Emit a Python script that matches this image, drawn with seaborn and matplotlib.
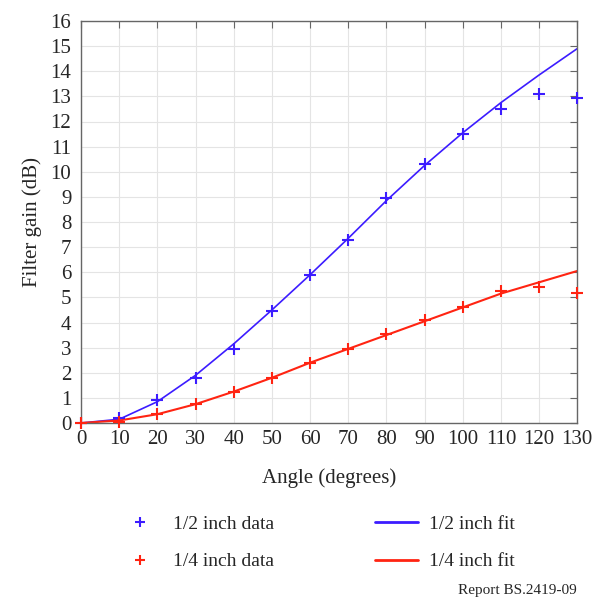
import seaborn as sns
import matplotlib.pyplot as plt
import numpy as np
from matplotlib.lines import Line2D

# angles (degrees)
angles = np.array([0, 10, 20, 30, 40, 50, 60, 70, 80, 90, 100, 110, 120, 130])

# measured filter gain (dB)
half_data = np.array([0.0, 0.2, 0.9, 1.8, 2.95, 4.45, 5.9, 7.3, 8.95, 10.3, 11.5, 12.5, 13.1, 12.95])
quarter_data = np.array([0.0, 0.05, 0.35, 0.75, 1.25, 1.8, 2.4, 2.95, 3.55, 4.08, 4.6, 5.25, 5.4, 5.17])

# fitted curves (dB)
half_fit = np.array([0.0, 0.15, 0.85, 1.9, 3.15, 4.5, 5.9, 7.35, 8.85, 10.25, 11.55, 12.75, 13.85, 14.9])
quarter_fit = np.array([0.0, 0.1, 0.35, 0.75, 1.25, 1.8, 2.4, 2.95, 3.5, 4.05, 4.6, 5.15, 5.6, 6.05])

BLUE = '#3c1cff'
RED = '#ff2412'


def main():
    sns.set_style('white')
    plt.rcParams['font.family'] = ['Liberation Serif', 'DejaVu Serif']

    fig = plt.figure(figsize=(5.92, 6.0), dpi=100, facecolor='white')
    ax = fig.add_axes([0.137, 0.295, 0.838, 0.67])

    sns.lineplot(x=angles, y=half_fit, color=BLUE, linewidth=1.2, ax=ax)
    sns.lineplot(x=angles, y=quarter_fit, color=RED, linewidth=1.5, ax=ax)
    sns.scatterplot(x=angles, y=half_data, marker='+', s=70, color=BLUE,
                    linewidth=1.5, ax=ax, clip_on=False, zorder=5)
    sns.scatterplot(x=angles, y=quarter_data, marker='+', s=70, color=RED,
                    linewidth=1.5, ax=ax, clip_on=False, zorder=5)

    ax.set_xlim(0, 130)
    ax.set_ylim(0, 16)
    ax.set_xticks(np.arange(0, 131, 10))
    ax.set_yticks(np.arange(0, 17, 1))
    ax.grid(True, color='#e4e4e4', linewidth=0.8)
    ax.set_axisbelow(True)
    ax.tick_params(direction='in', length=5, width=0.8, color='#666666',
                   top=True, right=True, labelsize=15)
    ax.tick_params(axis='x', pad=5)
    ax.tick_params(axis='y', pad=7)
    for sp in ax.spines.values():
        sp.set_color('#666666')
        sp.set_linewidth(1.0)

    ax.set_xlabel('Angle (degrees)', fontsize=15, labelpad=14)
    ax.set_ylabel('Filter gain (dB)', fontsize=15, labelpad=6)

    handles = [
        Line2D([], [], color=BLUE, marker='+', linestyle='', markersize=7, markeredgewidth=1.5),
        Line2D([], [], color=RED, marker='+', linestyle='', markersize=7, markeredgewidth=1.5),
        Line2D([], [], color=BLUE, linewidth=2),
        Line2D([], [], color=RED, linewidth=2),
    ]
    labels = ['1/2 inch data', '1/4 inch data', '1/2 inch fit', '1/4 inch fit']
    fig.legend(handles, labels, loc='center', bbox_to_anchor=(0.535, 0.095),
               ncol=2, frameon=False, fontsize=14, handlelength=2.2,
               columnspacing=5.2, labelspacing=1.0, handletextpad=0.6)

    fig.text(0.975, 0.005, 'Report BS.2419-09', ha='right', va='bottom', fontsize=11)

    fig.savefig('out.png', dpi=100, facecolor='white')
    plt.close(fig)


if __name__ == '__main__':
    main()
